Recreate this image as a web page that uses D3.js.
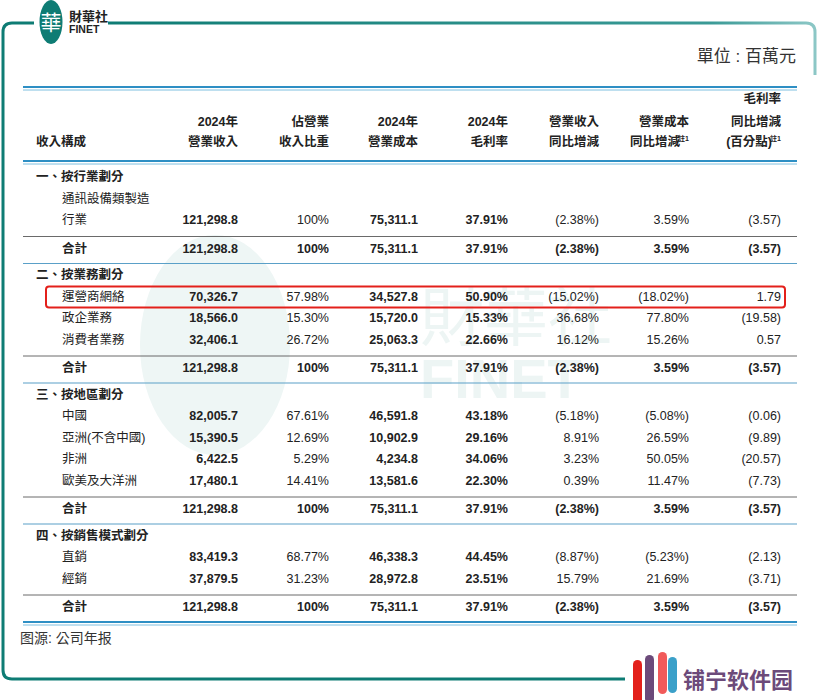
<!DOCTYPE html><html><head><meta charset="utf-8">
<script src="https://cdn.jsdelivr.net/npm/d3@7"></script>
<style>body{margin:0;background:#fff}svg{font-family:"Liberation Sans","Noto Sans CJK TC",sans-serif}</style></head>
<body><svg id="c" width="817" height="700"></svg>
<script>
const headers=[["","","收入構成"],["","2024年","營業收入"],["","佔營業","收入比重"],["","2024年","營業成本"],["","2024年","毛利率"],["","營業收入","同比增減"],["","營業成本","同比增減註1"],["毛利率","同比增減","(百分點)註1"]];
const rowLabels=["一、按行業劃分","通訊設備類製造","行業","合計","二、按業務劃分","運營商網絡","政企業務","消費者業務","合計","三、按地區劃分","中國","亞洲(不含中國)","非洲","歐美及大洋洲","合計","四、按銷售模式劃分","直銷","經銷","合計"];
const rowTypes=["s","w","d","t","s","d","d","d","t","s","d","d","d","d","t","s","d","d","t"];
const revenue=[null,null,"121,298.8","121,298.8",null,"70,326.7","18,566.0","32,406.1","121,298.8",null,"82,005.7","15,390.5","6,422.5","17,480.1","121,298.8",null,"83,419.3","37,879.5","121,298.8"];
const share=[null,null,"100%","100%",null,"57.98%","15.30%","26.72%","100%",null,"67.61%","12.69%","5.29%","14.41%","100%",null,"68.77%","31.23%","100%"];
const cost=[null,null,"75,311.1","75,311.1",null,"34,527.8","15,720.0","25,063.3","75,311.1",null,"46,591.8","10,902.9","4,234.8","13,581.6","75,311.1",null,"46,338.3","28,972.8","75,311.1"];
const margin=[null,null,"37.91%","37.91%",null,"50.90%","15.33%","22.66%","37.91%",null,"43.18%","29.16%","34.06%","22.30%","37.91%",null,"44.45%","23.51%","37.91%"];
const revYoY=[null,null,"(2.38%)","(2.38%)",null,"(15.02%)","36.68%","16.12%","(2.38%)",null,"(5.18%)","8.91%","3.23%","0.39%","(2.38%)",null,"(8.87%)","15.79%","(2.38%)"];
const costYoY=[null,null,"3.59%","3.59%",null,"(18.02%)","77.80%","15.26%","3.59%",null,"(5.08%)","26.59%","50.05%","11.47%","3.59%",null,"(5.23%)","21.69%","3.59%"];
const marginPt=[null,null,"(3.57)","(3.57)",null,"1.79","(19.58)","0.57","(3.57)",null,"(0.06)","(9.89)","(20.57)","(7.73)","(3.57)",null,"(2.13)","(3.71)","(3.57)"];
const cols=[revenue,share,cost,margin,revYoY,costYoY,marginPt];
const boldDetail=[true,false,true,true,false,false,false];

const svg=d3.select("#c");
const grad=svg.append("defs").append("linearGradient").attr("id","g");
grad.append("stop").attr("offset","0").attr("stop-color","#0e7c74");
grad.append("stop").attr("offset","0.85").attr("stop-color","#3a9a96");
grad.append("stop").attr("offset","1").attr("stop-color","#8cc7c6");
svg.append("path").attr("d","M34,23 H12 Q3,23 3,32 V670 Q3,679 12,679 H625").attr("fill","none").attr("stroke","#0e7c74").attr("stroke-width",3);
svg.append("path").attr("d","M108,23 H806 Q815,23 815,32 V75").attr("fill","none").attr("stroke","url(#g)").attr("stroke-width",3);
// logo
svg.append("ellipse").attr("cx",51).attr("cy",22).attr("rx",11.5).attr("ry",22).attr("fill","#0e7c74");
svg.append("text").attr("x",51).attr("y",30).attr("text-anchor","middle").attr("font-size",21).attr("fill","#fff").attr("font-family","Noto Sans CJK TC").text("華");
svg.append("text").attr("x",69).attr("y",21).attr("font-size",13).attr("font-weight","bold").attr("fill","#222").text("財華社");
svg.append("text").attr("x",69).attr("y",33).attr("font-size",10.5).attr("font-weight","bold").attr("fill","#222").text("FINET");
// watermark (shapes + faint text)
svg.append("ellipse").attr("cx",215).attr("cy",345).attr("rx",75).attr("ry",110).attr("fill","#eef6f5");
svg.append("text").attr("x",420).attr("y",340).attr("font-size",64).attr("fill","#edf5f4").attr("font-family","Noto Sans CJK TC").text("財華社");
svg.append("text").attr("x",420).attr("y",398).attr("font-size",56).attr("fill","#edf5f4").attr("font-weight","bold").text("FINET");

svg.append("text").attr("x",796).attr("y",62).attr("text-anchor","end").attr("font-size",17).attr("fill","#333").text("單位 : 百萬元");

const rights=[238,329,418,508,599,689,781];
const hy=[103,126,146];
headers.forEach((h,i)=>{h.forEach((t,j)=>{if(!t)return;
 const sup=t.endsWith("註1"); const base=sup?t.slice(0,-2):t;
 const tx=svg.append("text").attr("y",hy[j]).attr("font-size",12.5).attr("font-weight","bold").attr("fill","#222");
 if(i===0){tx.attr("x",36).text(base);} else {tx.attr("x",rights[i-1]-(sup?9:0)).attr("text-anchor","end").text(base);
  if(sup) svg.append("text").attr("x",rights[i-1]).attr("y",hy[j]-5).attr("text-anchor","end").attr("font-size",7).attr("font-weight","bold").attr("fill","#222").text("註1");}
});});
function dbl(y){svg.append("line").attr("x1",23).attr("x2",797).attr("y1",y).attr("y2",y).attr("stroke","#2e8fc4").attr("stroke-width",2);
 svg.append("line").attr("x1",23).attr("x2",797).attr("y1",y+3).attr("y2",y+3).attr("stroke","#7fc0e0").attr("stroke-width",1);}
dbl(87);dbl(161);
const ys=[];let y=181;
rowTypes.forEach((t,i)=>{if(i>0){y+=21.5; if(t==="t")y+=7; if(rowTypes[i-1]==="t")y+=5;} ys.push(y);});
const yScale=d3.scaleOrdinal().domain(d3.range(rowTypes.length)).range(ys);
rowTypes.forEach((t,i)=>{
 const yy=yScale(i);
 svg.append("text").attr("x",t==="s"?36:62).attr("y",yy).attr("font-size",12.5).attr("font-weight",t==="s"||t==="t"?"bold":"normal").attr("fill","#222").text(rowLabels[i]);
 cols.forEach((c,k)=>{if(c[i]==null)return;
  svg.append("text").attr("x",rights[k]).attr("y",yy).attr("text-anchor","end").attr("font-size",12.5)
   .attr("font-weight",(t==="t"||boldDetail[k])?"bold":"normal").attr("fill","#222").text(c[i]);});
 if(t==="t"){
  svg.append("line").attr("x1",23).attr("x2",797).attr("y1",yy-16).attr("y2",yy-16).attr("stroke","#444").attr("stroke-width",0.8);
  if(i<rowTypes.length-1) svg.append("line").attr("x1",23).attr("x2",797).attr("y1",yy+11).attr("y2",yy+11).attr("stroke","#5aa0c8").attr("stroke-width",1.2);
  else dbl(yy+11);
 }
});
const hi=rowLabels.indexOf("運營商網絡");
svg.append("rect").attr("x",46).attr("y",yScale(hi)-14).attr("width",739).attr("height",21).attr("rx",3).attr("fill","none").attr("stroke","#e3201b").attr("stroke-width",2);
svg.append("text").attr("x",20).attr("y",643).attr("font-size",14).attr("fill","#333").text("图源:  公司年报");
const bc=["#e3201b","#6c4a7a","#f15a5a","#3ba0c9"];
[[633,660,44],[645,655,48],[658,652,42],[668,657,36]].forEach((b,i)=>svg.append("rect").attr("x",b[0]).attr("y",b[1]).attr("width",9).attr("height",b[2]).attr("rx",4.5).attr("fill",bc[i]));
svg.append("text").attr("x",683).attr("y",688).attr("font-size",22).attr("font-weight","bold").attr("fill","#6c4a7a").attr("font-family","Noto Sans CJK SC").text("铺宁软件园");
</script></body></html>
